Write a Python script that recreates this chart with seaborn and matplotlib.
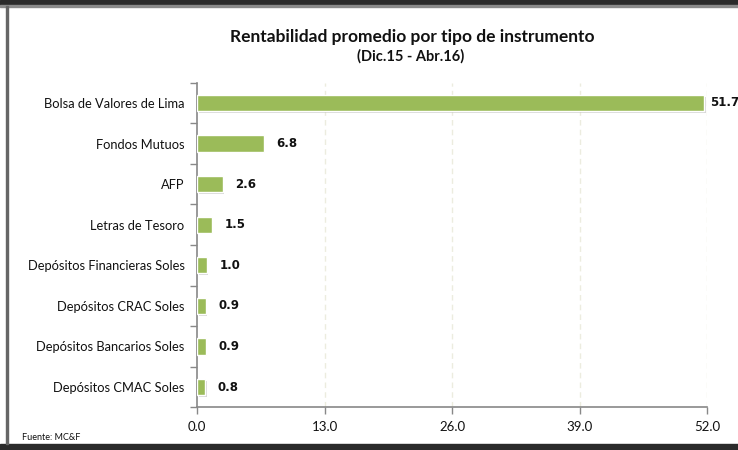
import matplotlib
matplotlib.use("Agg")
import numpy as np
import pandas as pd
import seaborn as sns
from matplotlib import pyplot as plt
from matplotlib import patheffects as pe

categories = ["Bolsa de Valores de Lima", "Fondos Mutuos", "AFP", "Letras de Tesoro",
              "Depósitos Financieras Soles", "Depósitos CRAC Soles",
              "Depósitos Bancarios Soles", "Depósitos CMAC Soles"]
values = [51.7, 6.8, 2.6, 1.5, 1.0, 0.9, 0.9, 0.8]
x_ticks = [0.0, 13.0, 26.0, 39.0, 52.0]

df = pd.DataFrame({"instrumento": categories, "rentabilidad": values})

sns.set_theme(style="white")
plt.rcParams["font.family"] = ["Lato", "DejaVu Sans"]

fig = plt.figure(figsize=(7.38, 4.5), dpi=100)
ax = fig.add_axes([197 / 738, 1 - 407.3 / 450, 510 / 738, (407.3 - 82.7) / 450])

sns.barplot(data=df, x="rentabilidad", y="instrumento", color="#9BBB59", width=0.4,
            saturation=1, edgecolor="white", linewidth=1.0, ax=ax, zorder=3)
for bar in ax.patches:
    bar.set_path_effects([pe.SimplePatchShadow(offset=(1.2, -1.2), shadow_rgbFace="#b0b0b0", alpha=0.5),
                          pe.Normal()])

for i, v in enumerate(values):
    ax.annotate(f"{v:.1f}", xy=(v, i), xytext=(4 if i == 0 else 9, 0), textcoords="offset points",
                va="center", ha="left", fontsize=8.5, fontweight="bold", color="#111111",
                family="DejaVu Sans", annotation_clip=False)

ax.set_xlim(0, 52)
ax.set_ylim(len(categories) - 0.5, -0.5)
ax.set_xticks(x_ticks)
ax.set_xticklabels([f"{t:.1f}" for t in x_ticks], fontsize=9.5, color="#111111")
ax.set_yticks(range(len(categories)))
ax.set_yticklabels(categories, fontsize=9.3, color="#111111")
ax.tick_params(axis="y", which="major", left=True, length=0, pad=9)
ax.tick_params(axis="x", bottom=True, length=5, color="#888888", width=1, direction="out", pad=5)
# category boundary ticks on the y axis
ax.set_yticks(np.arange(-0.5, len(categories), 1), minor=True)
ax.tick_params(axis="y", which="minor", left=True, length=5, color="#888888", width=1, direction="out")
ax.set_xlabel("")
ax.set_ylabel("")

for t in x_ticks[1:]:
    ax.axvline(t, color="#ececdf", linestyle=(0, (4, 3)), linewidth=1, zorder=0)

for side in ["top", "right"]:
    ax.spines[side].set_visible(False)
for side in ["left", "bottom"]:
    ax.spines[side].set_color("#888888")
    ax.spines[side].set_linewidth(1.2)

fig.text(412 / 738, 1 - 37 / 450, "Rentabilidad promedio por tipo de instrumento", ha="center",
         va="center", fontsize=12.5, fontweight="bold", color="#111111")
fig.text(411 / 738, 1 - 56 / 450, "(Dic.15 - Abr.16)", ha="center", va="center",
         fontsize=10.5, fontweight="bold", color="#111111")
fig.text(22 / 738, 1 - 437 / 450, "Fuente: MC&F", ha="left", va="center", fontsize=6.5,
         color="#111111")

# frame of the original screenshot
fig.add_artist(plt.Rectangle((0, 1 - 5 / 450), 1, 5 / 450, transform=fig.transFigure,
                             color="#2b2b2b", zorder=10))
fig.add_artist(plt.Rectangle((0, 1 - 7 / 450), 1, 2 / 450, transform=fig.transFigure,
                             color="#8a8a8a", zorder=10))
fig.add_artist(plt.Rectangle((0, 0), 1, 6 / 450, transform=fig.transFigure,
                             color="#2b2b2b", zorder=10))
fig.add_artist(plt.Rectangle((6 / 738, 6 / 450), 1.5 / 738, 438 / 450, transform=fig.transFigure,
                             color="#666666", zorder=10))

fig.savefig("out.png", dpi=100)
